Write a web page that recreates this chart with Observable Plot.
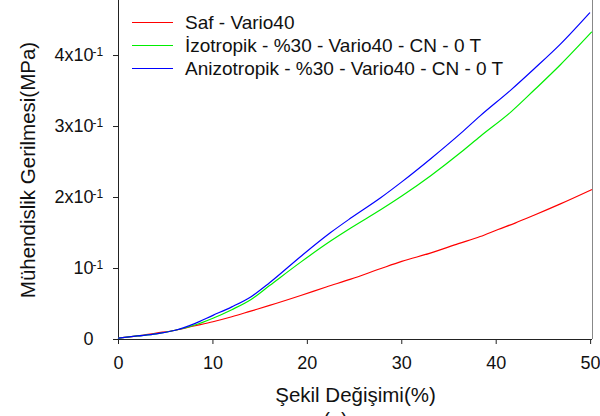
<!DOCTYPE html>
<html>
<head>
<meta charset="utf-8">
<script src="https://cdn.jsdelivr.net/npm/d3@7"></script>
<script src="https://cdn.jsdelivr.net/npm/@observablehq/plot@0.6"></script>
<style>
  html, body { margin: 0; padding: 0; background: #fff; }
  #wrap { position: relative; width: 600px; height: 416px; overflow: hidden; font-family: "Liberation Sans", Arial, sans-serif; }
  #legend { position: absolute; left: 132px; top: 11px; font-size: 19px; color: #111; }
  .row { display: flex; align-items: center; height: 23px; white-space: nowrap; }
  .sw { width: 41px; height: 0; border-top: 1.2px solid; margin-right: 12px; }
</style>
</head>
<body>
<div id="wrap"></div>
<script>
// Series names and colours
const seriesNames = ["Saf - Vario40", "İzotropik - %30 - Vario40 - CN - 0 T", "Anizotropik - %30 - Vario40 - CN - 0 T"];
const seriesColors = ["#ff0000", "#00ee00", "#0000ff"];

// Strain (%) and stress (MPa)
const safX = [0, 2, 4, 6, 8, 10, 12, 14, 16, 19.3, 22, 24.6, 27.8, 30, 33.1, 36, 38.3, 40.2, 42, 44, 46.8, 50.1];
const safY = [0.002, 0.005, 0.009, 0.013, 0.019, 0.025, 0.032, 0.040, 0.048, 0.062, 0.074, 0.085, 0.100, 0.110, 0.122, 0.135, 0.145, 0.155, 0.164, 0.175, 0.191, 0.211];

const izoX = [0, 2, 4, 6, 8, 10, 12, 14, 16, 19.3, 22.5, 24.6, 27.8, 30, 33.1, 36.3, 38.3, 41.6, 44, 46.8, 50.1];
const izoY = [0.002, 0.005, 0.008, 0.013, 0.020, 0.030, 0.042, 0.056, 0.076, 0.109, 0.139, 0.157, 0.183, 0.202, 0.231, 0.264, 0.286, 0.321, 0.351, 0.387, 0.433];

const aniX = [0, 2, 4, 6, 8, 10, 12, 14, 16, 19.3, 22.5, 24.6, 27.8, 30, 33.1, 36.3, 38.3, 41.6, 44, 46.8, 49.9];
const aniY = [0.002, 0.005, 0.008, 0.013, 0.022, 0.034, 0.046, 0.060, 0.080, 0.117, 0.151, 0.171, 0.200, 0.222, 0.255, 0.291, 0.315, 0.352, 0.381, 0.416, 0.460];

// Ticks
const xTicks = [0, 10, 20, 30, 40, 50];
const yTicks = [0, 0.1, 0.2, 0.3, 0.4];
const yTickMain = ["0", "10", "2x10", "3x10", "4x10"];
const yTickSup = ["", "-1", "-1", "-1", "-1"];

const xTitle = "Şekil Değişimi(%)";
const yTitle = "Mühendislik Gerilmesi(MPa)";
const panelLabel = "(a)";

const rows = [];
[[safX, safY], [izoX, izoY], [aniX, aniY]].forEach(([xs, ys], k) => {
  xs.forEach((x, i) => rows.push({series: seriesNames[k], x, y: ys[i]}));
});
const supData = yTicks.map((v, i) => ({v, s: yTickSup[i]})).filter(d => d.s);

const font = '"Liberation Sans", Arial, sans-serif';

const chart = Plot.plot({
  width: 600,
  height: 416,
  marginLeft: 118,
  marginRight: 8,
  marginTop: 0,
  marginBottom: 77,
  style: {fontFamily: font, fontSize: "18px", background: "#fff", color: "#111"},
  x: {domain: [0, 50.2]},
  y: {domain: [0, 0.4775]},
  color: {domain: seriesNames, range: seriesColors},
  marks: [
    Plot.axisX({ticks: xTicks, tickSize: 5, tickPadding: 12, label: null, fontSize: 18, stroke: "#222"}),
    Plot.axisY({ticks: yTicks, tickFormat: d => yTickMain[yTicks.indexOf(d)], tickSize: 5, tickPadding: 20, label: null, fontSize: 18, stroke: "#222"}),
    Plot.text(supData, {x: d => 0, y: d => d.v, text: d => d.s, dx: -26, dy: -3, textAnchor: "start", fontSize: 12, fill: "#111"}),
    Plot.ruleX([50.2], {stroke: "#888"}),
    Plot.ruleX([0], {stroke: "#222"}),
    Plot.ruleY([0], {stroke: "#222"}),
    Plot.line(rows, {x: "x", y: "y", z: "series", stroke: "series", strokeWidth: 1.2, curve: "monotone-x"}),
    Plot.text([xTitle], {frameAnchor: "bottom", dy: 48, lineAnchor: "top", fontSize: 20.5, fill: "#111"}),
    Plot.text([yTitle], {frameAnchor: "left", dx: -90, rotate: -90, textAnchor: "middle", lineAnchor: "middle", fontSize: 20.5, fill: "#111"}),
    Plot.text([panelLabel], {frameAnchor: "bottom", dx: -20, dy: 73, lineAnchor: "top", fontSize: 20, fill: "#111"})
  ]
});

const wrap = document.getElementById("wrap");
wrap.appendChild(chart);

const legend = document.createElement("div");
legend.id = "legend";
seriesNames.forEach((name, i) => {
  const row = document.createElement("div");
  row.className = "row";
  const sw = document.createElement("span");
  sw.className = "sw";
  sw.style.borderTopColor = seriesColors[i];
  const t = document.createElement("span");
  t.textContent = name;
  row.appendChild(sw);
  row.appendChild(t);
  legend.appendChild(row);
});
wrap.appendChild(legend);
</script>
</body>
</html>
